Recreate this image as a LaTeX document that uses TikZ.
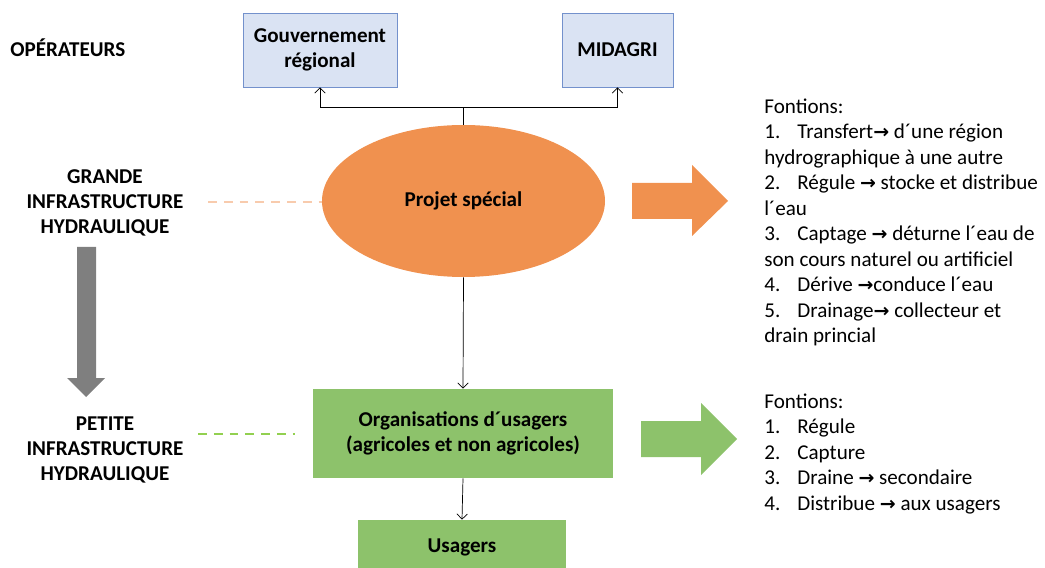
\documentclass[tikz,border=0pt]{standalone}
\usepackage{fontspec}
\setmainfont{Carlito}
\newfontfamily\symfont{DejaVu Sans}
\usetikzlibrary{shapes.geometric,arrows.meta}

\definecolor{opblue}{HTML}{DAE3F3}
\definecolor{opborder}{HTML}{7391CC}
\definecolor{projorange}{HTML}{F0914F}
\definecolor{dashorange}{HTML}{F8CBAD}
\definecolor{orggreen}{HTML}{8DC26B}
\definecolor{dashgreen}{HTML}{92D050}
\definecolor{arrowgray}{HTML}{7F7F7F}

\newcommand{\arr}{{\symfont\bfseries\scalebox{0.9}{→}}}
\newcommand{\itm}[1]{\makebox[0.66cm][l]{#1.}}

\begin{document}
\begin{tikzpicture}[thin,>={Straight Barb[length=3pt,width=6pt]},
  every node/.append style={font=\fontsize{12}{14.5}\selectfont},
  opbox/.style={draw=opborder,fill=opblue,align=center,font=\fontsize{12}{14.2}\selectfont\bfseries,minimum height=1.48cm},
  greenbox/.style={fill=orggreen,align=center,font=\fontsize{12}{14.2}\selectfont\bfseries},
  lbl/.style={align=center,font=\fontsize{12}{14.2}\selectfont\bfseries},
  dashline/.style={line width=0.9pt,dash pattern=on 5pt off 4pt},
  fonctions/.style={align=left,anchor=north west,inner sep=0pt}]
\clip (0,0) rectangle (20.9,11.34);

%
% operateurs
%
\node (op) [anchor=west,inner sep=0pt,font=\fontsize{12}{14.2}\selectfont\bfseries] at (0.2,10.38) {OPÉRATEURS};
\node (gouv) [opbox,minimum width=3.08cm] at (6.4,10.34) {Gouvernement\\régional};
\node (midagri) [opbox,minimum width=2.22cm] at (12.35,10.34) {MIDAGRI};

\node (projet) [ellipse,fill=projorange,inner sep=0pt,minimum width=5.66cm,minimum height=3.04cm,font=\fontsize{12}{14.2}\selectfont\bfseries] at (9.27,7.32) {Projet spécial};
\coordinate (junc) at (9.27,9.2);
\draw (projet.north) -- (junc);
\draw[->] (junc) -| (gouv.south);
\draw[->] (junc) -| (midagri.south);

%
% usagers
%
\node (org) [greenbox,minimum width=6cm,minimum height=1.78cm] at (9.26,2.67) {Organisations d´usagers\\(agricoles et non agricoles)};
\node (usagers) [greenbox,minimum width=4.16cm,minimum height=1.08cm] at (9.24,0.4) {Usagers};
\draw[->] (projet.south) -- (org.north);
\draw[->] (org.south) -- (usagers.north);

%
% infrastructure
%
\node (grande) [lbl] at (2.1,7.28) {GRANDE\\INFRASTRUCTURE\\HYDRAULIQUE};
\node (petite) [lbl] at (2.1,2.34) {PETITE\\INFRASTRUCTURE\\HYDRAULIQUE};
\coordinate (gdash) at (4.16,7.3);
\draw[dashline,draw=dashorange] (gdash) -- (projet.west |- gdash);
\coordinate (pdash1) at (3.96,2.66);
\coordinate (pdash2) at (5.9,2.66);
\draw[dashline,draw=dashgreen] (pdash1) -- (pdash2);

\fill[arrowgray] (1.54,6.4) -- (1.92,6.4) -- (1.92,3.78) -- (2.1,3.78) -- (1.72,3.4) -- (1.34,3.78) -- (1.54,3.78) -- cycle; % grande -> petite

%
% fonctions
%
\fill[projorange] (12.64,7.68) -- (13.84,7.68) -- (13.84,8.04) -- (14.56,7.32) -- (13.84,6.62) -- (13.84,6.96) -- (12.64,6.96) -- cycle;
\fill[orggreen] (12.82,2.92) -- (14.02,2.92) -- (14.02,3.28) -- (14.74,2.56) -- (14.02,1.84) -- (14.02,2.2) -- (12.82,2.2) -- cycle;

\node (fonct1) [fonctions] at (15.28,9.37) {Fontions:\\
\itm{1}Transfert\arr{} d´une région\\
hydrographique à une autre\\
\itm{2}Régule \arr{} stocke et distribue\\
l´eau\\
\itm{3}Captage \arr{} déturne l´eau de\\
son cours naturel ou artificiel\\
\itm{4}Dérive \arr{}conduce l´eau\\
\itm{5}Drainage\arr{} collecteur et\\
drain princial};

\node (fonct2) [fonctions] at (15.28,3.47) {Fontions:\\
\itm{1}Régule\\
\itm{2}Capture\\
\itm{3}Draine \arr{} secondaire\\
\itm{4}Distribue \arr{} aux usagers};

\end{tikzpicture}
\end{document}
